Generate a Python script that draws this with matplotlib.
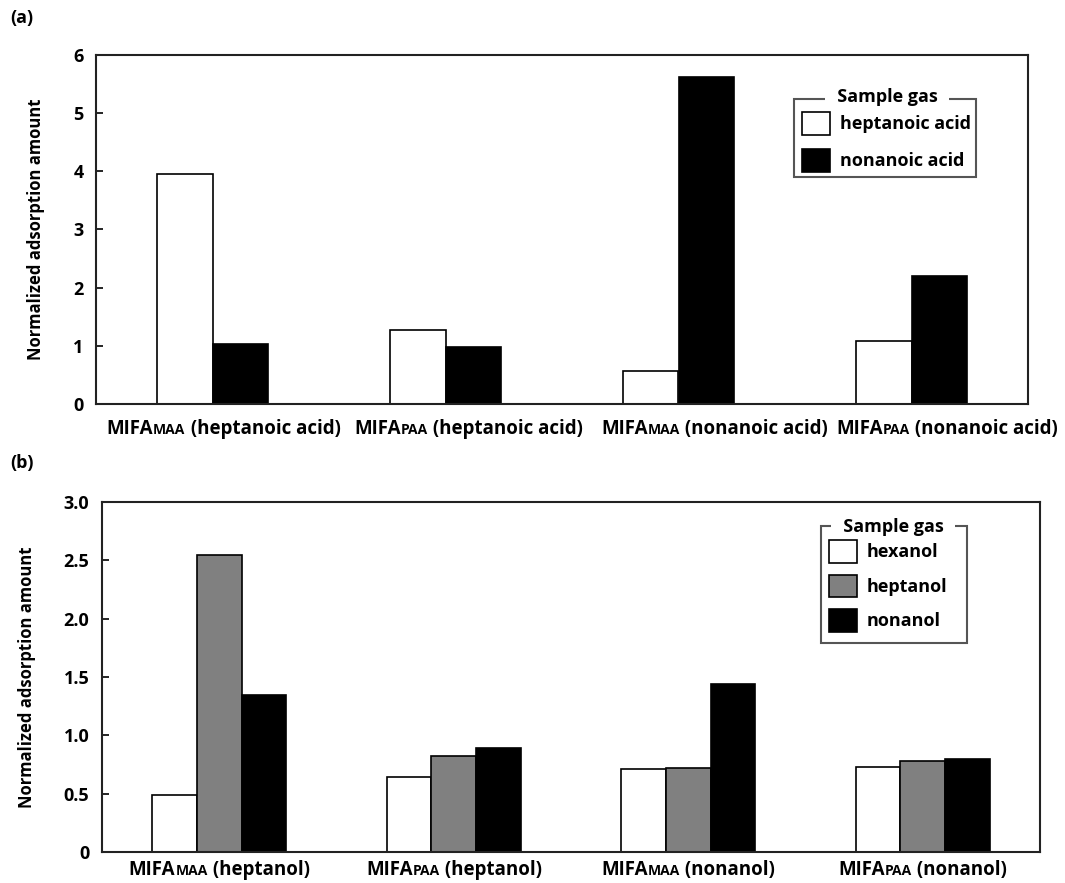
import numpy as np
import matplotlib
matplotlib.use("Agg")
import matplotlib.pyplot as plt
from matplotlib.patches import Rectangle
from matplotlib.offsetbox import TextArea, HPacker, AnnotationBbox

plt.rcParams['font.family'] = ['Open Sans', 'DejaVu Sans']
plt.rcParams['font.weight'] = 'bold'

# (a) carboxylic acids
acid_polymers = ['MAA', 'PAA', 'MAA', 'PAA']
acid_templates = ['heptanoic acid', 'heptanoic acid', 'nonanoic acid', 'nonanoic acid']
acid_gases = ['heptanoic acid', 'nonanoic acid']
acid_values = [
    [3.96, 1.27, 0.57, 1.08],   # heptanoic acid
    [1.04, 0.98, 5.62, 2.20],   # nonanoic acid
]
acid_colors = ['white', 'black']

# (b) alcohols
alc_polymers = ['MAA', 'PAA', 'MAA', 'PAA']
alc_templates = ['heptanol', 'heptanol', 'nonanol', 'nonanol']
alc_gases = ['hexanol', 'heptanol', 'nonanol']
alc_values = [
    [0.49, 0.64, 0.71, 0.73],   # hexanol
    [2.55, 0.82, 0.72, 0.78],   # heptanol
    [1.35, 0.89, 1.44, 0.80],   # nonanol
]
alc_colors = ['white', '#808080', 'black']

yticks_a = [0, 1, 2, 3, 4, 5, 6]
ytick_labels_a = ['0', '1', '2', '3', '4', '5', '6']
yticks_b = [0, 0.5, 1.0, 1.5, 2.0, 2.5, 3.0]
ytick_labels_b = ['0', '0.5', '1.0', '1.5', '2.0', '2.5', '3.0']

W, H = 1065, 883
fig = plt.figure(figsize=(W / 100, H / 100), dpi=100)


def px(x0, y0, x1, y1):
    # pixel box (top-left origin) -> figure fraction rect
    return [x0 / W, 1 - y1 / H, (x1 - x0) / W, (y1 - y0) / H]


def draw_panel(ax, values, colors, gases, width, ymax, yticks, ylabels):
    x = np.arange(len(values[0]))
    n = len(values)
    handles = []
    for i, (vals, col) in enumerate(zip(values, colors)):
        offs = (i - (n - 1) / 2) * width
        b = ax.bar(x + offs, vals, width, color=col, edgecolor='black',
                   linewidth=1.2, label=gases[i])
        handles.append(b)
    ax.set_xlim(-0.5, len(x) - 0.5)
    ax.set_ylim(0, ymax)
    ax.set_xticks([])
    ax.set_yticks(yticks)
    ax.set_yticklabels(ylabels, fontsize=13, fontweight='bold')
    ax.tick_params(axis='y', direction='in', length=5, width=1.2, pad=9)
    for s in ax.spines.values():
        s.set_linewidth(1.5)
        s.set_color('#222222')
    ax.set_ylabel('Normalized adsorption amount', fontsize=12,
                  fontweight='bold', labelpad=20)
    return handles


def category_labels(ax, polymers, templates, fs, sub_fs, offset, shifts=None):
    if shifts is None:
        shifts = [0] * len(polymers)
    for i, (p, t) in enumerate(zip(polymers, templates)):
        parts = [TextArea('MIFA', textprops=dict(fontsize=fs, fontweight='bold')),
                 TextArea(p, textprops=dict(fontsize=sub_fs, fontweight='bold')),
                 TextArea(' (' + t + ')', textprops=dict(fontsize=fs, fontweight='bold'))]
        box = HPacker(children=parts, align='baseline', pad=0, sep=0)
        ab = AnnotationBbox(box, (i, 0), xycoords=('data', 'axes fraction'),
                            xybox=(shifts[i], -offset), boxcoords='offset pixels',
                            box_alignment=(0.5, 1), frameon=False)
        ax.add_artist(ab)


def group_legend(ax, handles, labels, frame, title_xy, item_xy, spacing):
    leg = ax.legend(handles, labels, loc='upper left', bbox_to_anchor=item_xy,
                    bbox_transform=fig.transFigure, frameon=False, fontsize=13,
                    handlelength=1.55, handleheight=1.55, handletextpad=0.55,
                    labelspacing=spacing, borderpad=0, borderaxespad=0)
    for t in leg.get_texts():
        t.set_fontweight('bold')
    # group-box frame with the title breaking the top edge
    fig.patches.append(Rectangle(frame[:2], frame[2], frame[3],
                                 transform=fig.transFigure, fill=False,
                                 edgecolor='#555555', linewidth=1.5))
    fig.text(title_xy[0], title_xy[1], '  Sample gas  ', ha='center', va='center',
             fontsize=13, fontweight='bold',
             bbox=dict(facecolor='white', edgecolor='none', pad=2))


# panel (a)
ax1 = fig.add_axes(px(96, 55, 1028, 404))
h1 = draw_panel(ax1, acid_values, acid_colors, acid_gases, 0.24, 6,
                yticks_a, ytick_labels_a)
category_labels(ax1, acid_polymers, acid_templates, 13.5, 10, 15,
                shifts=[11, 23, 36, 36])
f = px(794, 99, 976, 177)
group_legend(ax1, h1, acid_gases, f, (887 / W, 1 - 97 / H),
             (802 / W, 1 - 112 / H), 0.8)
fig.text(10 / W, 1 - 18 / H, '(a)', fontsize=13, fontweight='bold', va='center')

# panel (b)
ax2 = fig.add_axes(px(102, 502, 1040, 852))
h2 = draw_panel(ax2, alc_values, alc_colors, alc_gases, 0.19, 3,
                yticks_b, ytick_labels_b)
category_labels(ax2, alc_polymers, alc_templates, 13.5, 10, 8)
f = px(821, 526, 967, 643)
group_legend(ax2, h2, alc_gases, f, (893 / W, 1 - 527 / H),
             (829 / W, 1 - 540 / H), 0.66)
fig.text(10 / W, 1 - 463 / H, '(b)', fontsize=13, fontweight='bold', va='center')

fig.savefig('out.png', dpi=100)
